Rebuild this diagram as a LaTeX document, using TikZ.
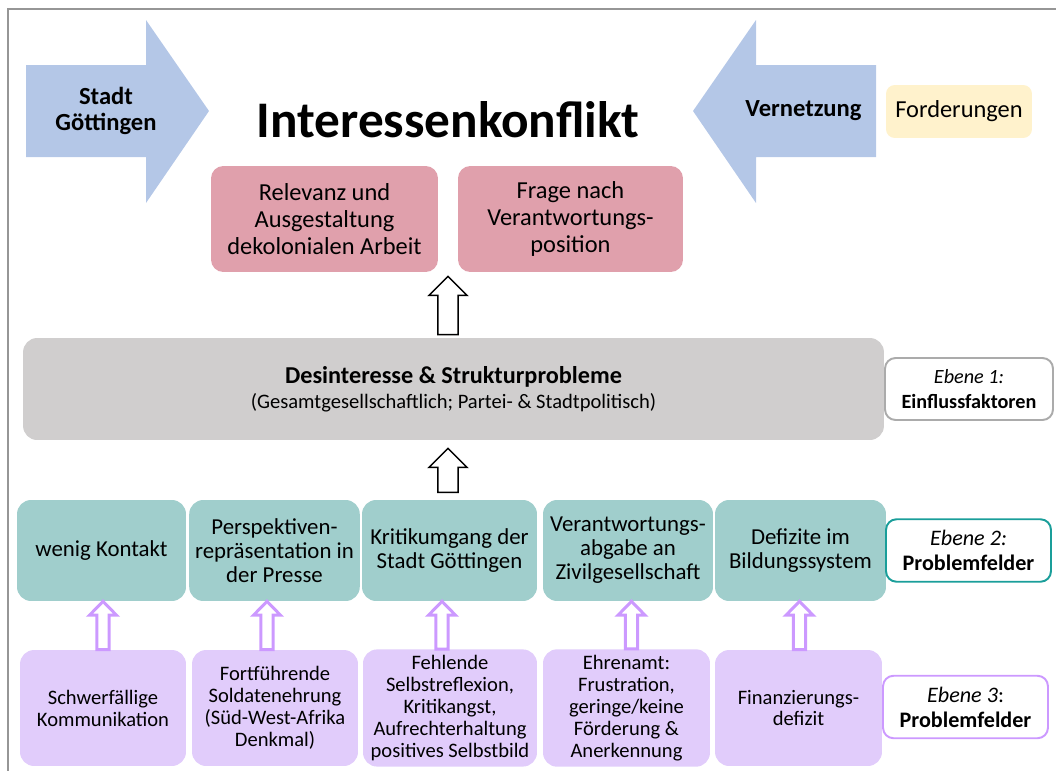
\documentclass[tikz,border=0pt]{standalone}
\usepackage{fontspec}
\setmainfont{Carlito}
\usepackage{tikz}
\usetikzlibrary{positioning, calc}

\definecolor{arrowblue}{HTML}{B4C7E7}
\definecolor{konfliktpink}{HTML}{E0A0AC}
\definecolor{feldteal}{HTML}{A0CECC}
\definecolor{tealline}{HTML}{1A9E9A}
\definecolor{ursachelila}{HTML}{E1CCFB}
\definecolor{lilaline}{HTML}{CC99FF}
\definecolor{strukturgrey}{HTML}{D0CECE}
\definecolor{forderyellow}{HTML}{FFF2CC}
\definecolor{framegrey}{HTML}{969696}

% hollow block arrow pointing up: style, bottom point, top point, half shaft, half head, head length
\newcommand{\hollowup}[6]{%
  \draw[#1] let \p1=#2, \p2=#3 in
    (\x1-#4,\y1) -- (\x1-#4,\y2-#6) -- (\x1-#5,\y2-#6) -- (\x1,\y2)
    -- (\x1+#5,\y2-#6) -- (\x1+#4,\y2-#6) -- (\x1+#4,\y1) -- cycle;}

\begin{document}
\begin{tikzpicture}[
  x=0.02cm, y=0.02cm,
  pinkbox/.style={fill=konfliktpink, rounded corners=7pt, minimum height=2.12cm, align=center, font=\fontsize{13.9}{15.3}\selectfont},
  tealbox/.style={fill=feldteal, rounded corners=8pt, minimum height=2.02cm, align=center, font=\fontsize{13}{13.6}\selectfont},
  lilabox/.style={fill=ursachelila, rounded corners=8pt, minimum height=2.32cm, align=center, font=\fontsize{11.7}{12.5}\selectfont},
  levelbox/.style={draw, fill=white, line width=1.1pt, rounded corners=6pt, minimum width=3.3cm, minimum height=1.25cm, align=center, font=\fontsize{12.6}{14.2}\selectfont},
  bigarrow/.style={fill=arrowblue},
  blk/.style={draw=black, fill=white, line width=0.85pt},
  lila/.style={draw=lilaline, fill=white, line width=1.7pt}
]
\useasboundingbox (0,0) rectangle (1056,-771);
\draw[framegrey, line width=1.2pt] (8,-771) -- (8,-9) -- (1056,-9);

% top: arrows and conflict
\fill[bigarrow] (26,-65) -- (146,-65) -- (146,-20) -- (209,-111) -- (146,-203) -- (146,-157) -- (26,-157) -- cycle;
\fill[bigarrow] (876,-65) -- (756,-65) -- (756,-20) -- (693,-111) -- (756,-203) -- (756,-157) -- (876,-157) -- cycle;
\node[align=center, font=\bfseries\fontsize{14}{15.1}\selectfont] (stadt) at (106,-111) {Stadt\\Göttingen};
\node[font=\bfseries\fontsize{14}{15.1}\selectfont] (vernetzung) at (803.5,-111) {Vernetzung};
\node[fill=forderyellow, rounded corners=5pt, minimum width=2.92cm, minimum height=1.06cm, font=\fontsize{13.9}{15.3}\selectfont] (forderungen) at (959,-111.5) {Forderungen};
\node[anchor=base, font=\bfseries\fontsize{29.2}{35}\selectfont] (konflikt) at (448,-137) {Interessenkonflikt};

\node[pinkbox, minimum width=4.54cm] (relevanz) at (324.5,-219) {Relevanz und\\Ausgestaltung\\dekolonialen Arbeit};
\node[pinkbox, minimum width=4.5cm] (frage) at (570.5,-219) {Frage nach\\Verantwortungs-\\position};

% Ebene 1
\node[fill=strukturgrey, rounded corners=8pt, minimum width=17.22cm, minimum height=2.04cm, align=center] (desinteresse) at (453.5,-389)
  {{\bfseries\fontsize{13.8}{14}\selectfont Desinteresse \& Strukturprobleme}\\[2pt]
   {\fontsize{11.7}{13}\selectfont (Gesamtgesellschaftlich; Partei- \& Stadtpolitisch)}};
\node[levelbox, draw=framegrey!80, minimum width=3.36cm, minimum height=1.24cm, font=\fontsize{11.5}{14.2}\selectfont] (ebene1) at (969,-389) {\textit{Ebene 1:}\\\textbf{Einflussfaktoren}};

% Ebene 2
\node[tealbox, minimum width=3.38cm] (kontakt) at (101.5,-550.5) {wenig Kontakt};
\node[tealbox, minimum width=3.38cm] (presse) at (274.5,-550.5) {Perspektiven-\\repräsentation in\\der Presse};
\node[tealbox, minimum width=3.5cm] (kritik) at (449.5,-550.5) {Kritikumgang der\\Stadt Göttingen};
\node[tealbox, minimum width=3.4cm] (abgabe) at (628,-550.5) {Verantwortungs-\\abgabe an\\Zivilgesellschaft};
\node[tealbox, minimum width=3.42cm] (bildung) at (800.5,-550.5) {Defizite im\\Bildungssystem};
\node[levelbox, draw=tealline] (ebene2) at (968.5,-550.5) {\textit{Ebene 2:}\\\textbf{Problemfelder}};

% Ebene 3
\node[lilabox, minimum width=3.32cm] (kommunikation) at (103,-708) {Schwerfällige\\Kommunikation};
\node[lilabox, minimum width=3.32cm] (soldaten) at (275,-708) {Fortführende\\Soldatenehrung\\(Süd-West-Afrika\\Denkmal)};
\node[lilabox, minimum width=3.48cm] (reflexion) at (450,-708) {Fehlende\\Selbstreflexion,\\Kritikangst,\\Aufrechterhaltung\\positives Selbstbild};
\node[lilabox, minimum width=3.34cm] (ehrenamt) at (626.5,-708) {Ehrenamt:\\Frustration,\\geringe/keine\\Förderung \&\\Anerkennung};
\node[lilabox, minimum width=3.34cm] (finanz) at (798.5,-708) {Finanzierungs-\\defizit};
\node[levelbox, draw=lilaline] (ebene3) at (965.5,-707) {\textit{Ebene 3}:\\\textbf{Problemfelder}};

% block arrows
\hollowup{blk}{($(desinteresse.north -| konflikt.base)+(0,3)$)}{($(relevanz.south)+(0,-4)$)}{5.7pt}{10.8pt}{10.8pt}
\hollowup{blk}{($(desinteresse.south -| konflikt.base)+(0,-52)$)}{($(desinteresse.south)+(0,-8)$)}{5.7pt}{10.8pt}{10.8pt}
\foreach \unten/\oben/\dx in {kommunikation/kontakt/0, soldaten/presse/-8, reflexion/kritik/-8, ehrenamt/abgabe/5, finanz/bildung/1}
  \hollowup{lila}{($(\unten.north)+(\dx,0)$)}{(\oben.south)}{3.5pt}{7.7pt}{7.9pt};
\end{tikzpicture}
\end{document}
